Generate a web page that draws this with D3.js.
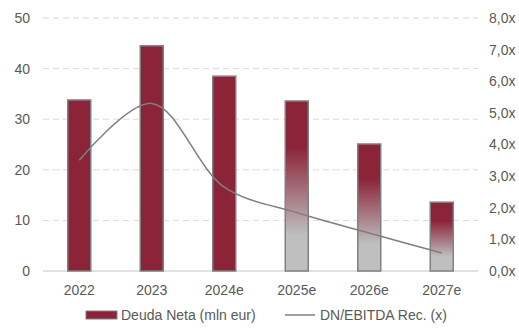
<!DOCTYPE html>
<html>
<head>
<meta charset="utf-8">
<script src="https://cdn.jsdelivr.net/npm/d3@7"></script>
<style>
  body { margin: 0; background: #fff; }
  svg { font-family: "Liberation Sans", Arial, sans-serif; }
</style>
</head>
<body>
<div id="chart"></div>
<script>
// Data
let years = ["2022", "2023", "2024e", "2025e", "2026e", "2027e"];
let deudaNeta = [33.8, 44.5, 38.5, 33.6, 25.1, 13.6];
let dnEbitda = [3.5, 5.3, 2.65, 1.85, 1.2, 0.57];
let estimated = [false, false, false, true, true, true];
let leftTicks = [0, 10, 20, 30, 40, 50];
let rightTicks = [0, 1, 2, 3, 4, 5, 6, 7, 8];

let width = 519,
    height = 329,
    margin = {top: 18, right: 41, bottom: 58, left: 43};

let red = "#8b2339",
    grey = "#bfbfbf",
    textColor = "#595959";

let svg = d3.select("#chart")
    .append("svg")
    .attr("width", width)
    .attr("height", height);

// gradient for estimated years
let defs = svg.append("defs");
let grad = defs.append("linearGradient")
    .attr("id", "fade")
    .attr("x1", 0).attr("y1", 0)
    .attr("x2", 0).attr("y2", 1);
grad.append("stop").attr("offset", "0%").attr("stop-color", red);
grad.append("stop").attr("offset", "27%").attr("stop-color", red);
grad.append("stop").attr("offset", "79%").attr("stop-color", grey);
grad.append("stop").attr("offset", "100%").attr("stop-color", grey);

let x = d3.scaleBand()
    .domain(years)
    .range([margin.left, width - margin.right]);

let y = d3.scaleLinear()
    .domain([0, 50])
    .range([height - margin.bottom, margin.top]);

let y2 = d3.scaleLinear()
    .domain([0, 8])
    .range([height - margin.bottom, margin.top]);

// dashed gridlines
svg.append("g")
    .selectAll("line")
    .data(leftTicks.filter(d => d > 0))
    .join("line")
    .attr("x1", margin.left)
    .attr("x2", width - margin.right)
    .attr("y1", d => y(d))
    .attr("y2", d => y(d))
    .attr("stroke", "#d9d9d9")
    .attr("stroke-width", 1)
    .attr("stroke-dasharray", "6,4");

// baseline
svg.append("line")
    .attr("x1", margin.left)
    .attr("x2", width - margin.right)
    .attr("y1", y(0))
    .attr("y2", y(0))
    .attr("stroke", "#d9d9d9")
    .attr("stroke-width", 1.5);

// left axis labels
svg.append("g")
    .selectAll("text")
    .data(leftTicks)
    .join("text")
    .attr("x", 30)
    .attr("y", d => y(d))
    .attr("dy", "0.35em")
    .attr("text-anchor", "end")
    .attr("fill", textColor)
    .style("font-size", "14px")
    .text(d => d);

// right axis labels
svg.append("g")
    .selectAll("text")
    .data(rightTicks)
    .join("text")
    .attr("x", 489)
    .attr("y", d => y2(d))
    .attr("dy", "0.35em")
    .attr("text-anchor", "start")
    .attr("fill", textColor)
    .style("font-size", "14px")
    .text(d => d.toFixed(1).replace(".", ",") + "x");

// x labels
svg.append("g")
    .selectAll("text")
    .data(years)
    .join("text")
    .attr("x", d => x(d) + x.bandwidth() / 2)
    .attr("y", 295)
    .attr("text-anchor", "middle")
    .attr("fill", textColor)
    .style("font-size", "14px")
    .text(d => d);

// bars
let barW = 23;
svg.append("g")
    .selectAll("rect")
    .data(years)
    .join("rect")
    .attr("x", (d, i) => x(d) + x.bandwidth() / 2 - barW / 2)
    .attr("y", (d, i) => y(deudaNeta[i]))
    .attr("width", barW)
    .attr("height", (d, i) => y(0) - y(deudaNeta[i]))
    .attr("fill", (d, i) => estimated[i] ? "url(#fade)" : red)
    .attr("stroke", "#808080")
    .attr("stroke-width", 1.5);

// smoothed ratio line
let line = d3.line()
    .x((d, i) => x(years[i]) + x.bandwidth() / 2)
    .y(d => y2(d))
    .curve(d3.curveCatmullRom.alpha(0.5));

svg.append("path")
    .datum(dnEbitda)
    .attr("d", line)
    .attr("fill", "none")
    .attr("stroke", "#7f7f7f")
    .attr("stroke-width", 1.5);

// legend
let legend = svg.append("g").style("font-size", "14px");
legend.append("rect")
    .attr("x", 86).attr("y", 311)
    .attr("width", 31).attr("height", 8)
    .attr("fill", red)
    .attr("stroke", "#808080")
    .attr("stroke-width", 1);
legend.append("text")
    .attr("x", 121).attr("y", 315)
    .attr("dy", "0.35em")
    .attr("fill", textColor)
    .text("Deuda Neta (mln eur)");
legend.append("line")
    .attr("x1", 285).attr("x2", 315)
    .attr("y1", 315).attr("y2", 315)
    .attr("stroke", "#7f7f7f")
    .attr("stroke-width", 1.5);
legend.append("text")
    .attr("x", 320).attr("y", 315)
    .attr("dy", "0.35em")
    .attr("fill", textColor)
    .text("DN/EBITDA Rec. (x)");
</script>
</body>
</html>
